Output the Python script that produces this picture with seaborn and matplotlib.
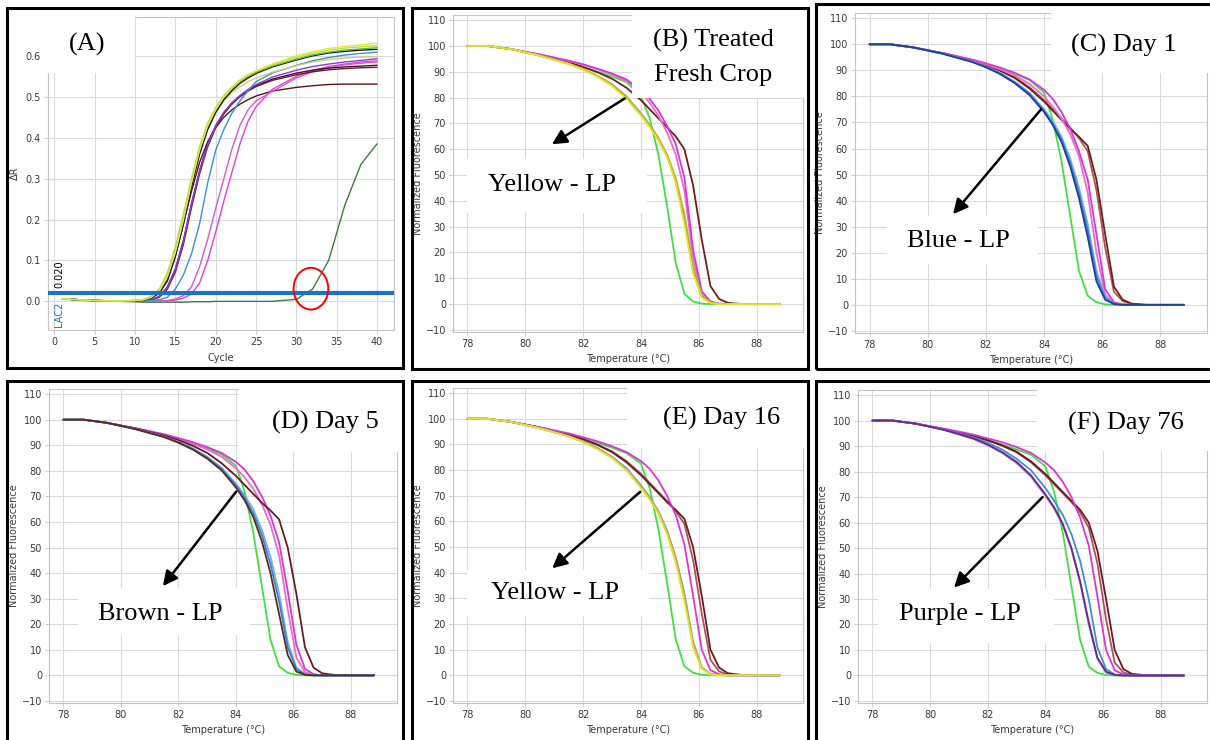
import matplotlib.pyplot as plt
import numpy as np
import pandas as pd
import seaborn as sns
from matplotlib.patches import Ellipse, Rectangle

W, H = 1210, 740

# ---- panel A: amplification curves ----
cycles = [1, 3, 5, 8, 10, 11, 12, 13, 14, 15, 16, 17, 18, 19, 20, 21, 22, 23, 24, 25, 27, 30, 32, 34, 36, 38, 40]
a_yellow = [0.006, 0.004, 0.002, 0.001, 0.002, 0.004, 0.010, 0.025, 0.060, 0.120, 0.200, 0.290, 0.370, 0.430, 0.470, 0.500, 0.522, 0.540, 0.553, 0.563, 0.580, 0.600, 0.610, 0.618, 0.623, 0.627, 0.631]
a_lime = [0.006, 0.004, 0.002, 0.001, 0.002, 0.004, 0.011, 0.028, 0.065, 0.128, 0.210, 0.300, 0.378, 0.436, 0.474, 0.503, 0.524, 0.541, 0.554, 0.563, 0.578, 0.596, 0.606, 0.614, 0.619, 0.622, 0.625]
a_green = [0.006, 0.004, 0.002, 0.001, 0.002, 0.004, 0.010, 0.026, 0.062, 0.125, 0.205, 0.295, 0.374, 0.432, 0.471, 0.500, 0.520, 0.537, 0.550, 0.560, 0.575, 0.592, 0.602, 0.609, 0.614, 0.617, 0.620]
a_black = [0.006, 0.004, 0.002, 0.001, 0.001, 0.003, 0.008, 0.020, 0.050, 0.110, 0.190, 0.280, 0.360, 0.420, 0.462, 0.493, 0.515, 0.533, 0.546, 0.557, 0.573, 0.590, 0.600, 0.607, 0.611, 0.614, 0.616]
a_olive = [0.006, 0.004, 0.002, 0.001, 0.002, 0.004, 0.012, 0.030, 0.070, 0.135, 0.215, 0.300, 0.372, 0.425, 0.462, 0.490, 0.510, 0.525, 0.537, 0.546, 0.560, 0.576, 0.585, 0.591, 0.595, 0.597, 0.598]
a_blue = [0.006, 0.004, 0.002, 0.001, 0.001, 0.001, 0.002, 0.004, 0.010, 0.030, 0.065, 0.117, 0.190, 0.290, 0.370, 0.420, 0.460, 0.490, 0.515, 0.537, 0.558, 0.577, 0.588, 0.596, 0.602, 0.606, 0.609]
a_maroon1 = [0.006, 0.004, 0.002, 0.001, 0.001, 0.002, 0.004, 0.012, 0.035, 0.080, 0.150, 0.240, 0.320, 0.385, 0.430, 0.462, 0.485, 0.502, 0.516, 0.527, 0.543, 0.558, 0.565, 0.570, 0.573, 0.575, 0.577]
a_maroon2 = [0.006, 0.004, 0.002, 0.001, 0.001, 0.002, 0.003, 0.010, 0.030, 0.072, 0.140, 0.230, 0.312, 0.378, 0.425, 0.458, 0.482, 0.500, 0.514, 0.525, 0.540, 0.554, 0.561, 0.566, 0.569, 0.571, 0.572]
a_purple = [0.006, 0.004, 0.002, 0.001, 0.001, 0.002, 0.004, 0.012, 0.033, 0.078, 0.148, 0.238, 0.318, 0.383, 0.428, 0.461, 0.485, 0.503, 0.518, 0.530, 0.548, 0.565, 0.574, 0.580, 0.585, 0.589, 0.593]
a_darkred = [0.006, 0.004, 0.002, 0.001, 0.002, 0.004, 0.009, 0.022, 0.052, 0.112, 0.190, 0.270, 0.340, 0.390, 0.425, 0.450, 0.468, 0.482, 0.493, 0.502, 0.514, 0.523, 0.527, 0.530, 0.531, 0.531, 0.531]
a_magenta1 = [0.006, 0.004, 0.002, 0.001, 0.000, 0.000, 0.000, 0.001, 0.001, 0.003, 0.008, 0.018, 0.045, 0.100, 0.170, 0.245, 0.315, 0.385, 0.440, 0.476, 0.518, 0.550, 0.564, 0.574, 0.580, 0.585, 0.588]
a_magenta2 = [0.006, 0.004, 0.002, 0.001, 0.000, 0.000, 0.000, 0.001, 0.002, 0.006, 0.014, 0.036, 0.085, 0.152, 0.228, 0.300, 0.372, 0.430, 0.468, 0.490, 0.513, 0.546, 0.561, 0.571, 0.578, 0.582, 0.585]
a_late = [0.006, 0.003, 0.001, 0.000, -0.001, -0.002, -0.002, -0.002, -0.002, -0.002, -0.002, -0.001, -0.001, -0.001, 0.000, 0.000, 0.000, 0.000, 0.000, 0.000, 0.000, 0.005, 0.030, 0.100, 0.235, 0.335, 0.385]
threshold = 0.020

# ---- panels B-F: melt curves ----
temps = [78.0, 78.7, 79.5, 80.5, 81.5, 82.0, 82.5, 83.0, 83.5, 84.0, 84.3, 84.6, 84.9, 85.2, 85.5, 85.8, 86.1, 86.4, 86.7, 87.0, 87.5, 88.0, 88.8]

b_green = [100, 100, 98.8, 96.4, 93.6, 91.8, 90.0, 88.2, 86.0, 80.5, 72, 58, 38, 16, 4, 1, 0.2, 0, 0, 0, 0, 0, 0]
b_yellow = [100, 100, 98.8, 96.2, 93.0, 90.8, 88.0, 84.5, 79.5, 73, 68.5, 63.5, 57, 47, 31, 12, 2.5, 0.4, 0, 0, 0, 0, 0]
b_olive = [100, 100, 98.8, 96.2, 93.1, 91.0, 88.3, 85.0, 80.0, 73.5, 69, 64, 57.5, 48, 33, 14, 3, 0.5, 0, 0, 0, 0, 0]
b_khaki = [100, 100, 98.8, 96.3, 93.2, 91.1, 88.4, 85.2, 80.5, 74, 69.5, 64.5, 58, 49, 35, 15, 3.5, 0.6, 0.1, 0, 0, 0, 0]
b_magenta = [100, 100, 98.8, 96.7, 94.3, 92.9, 91.2, 89.3, 87.0, 83, 79.5, 75, 69, 62, 49, 21, 5, 1, 0.2, 0, 0, 0, 0]
b_pink = [100, 100, 98.8, 96.7, 94.2, 92.7, 91.0, 89.0, 86.5, 82, 78, 73, 66.5, 58, 44, 18, 4, 0.8, 0.1, 0, 0, 0, 0]
b_brown = [100, 100, 98.8, 96.5, 93.7, 91.9, 89.8, 87.3, 83.8, 79, 75.5, 72, 68.5, 65, 60, 46, 25, 7, 2, 0.5, 0, 0, 0]

c_green = [100, 100, 98.8, 96.6, 94.0, 92.3, 90.5, 88.6, 86.3, 81.5, 71, 55, 34, 13, 3.5, 1, 0.2, 0, 0, 0, 0, 0, 0]
c_navy = [100, 100, 98.8, 96.4, 93.3, 91.2, 88.5, 85.0, 80.5, 74, 69, 62.5, 53, 41, 26, 9, 2, 0.3, 0, 0, 0, 0, 0]
c_blue = [100, 100, 98.8, 96.4, 93.4, 91.3, 88.7, 85.3, 81.0, 74.5, 69.5, 63.5, 54.5, 43, 28.5, 11, 2.5, 0.4, 0, 0, 0, 0, 0]
c_lightblue = [100, 100, 98.8, 96.5, 93.5, 91.4, 88.9, 85.6, 81.4, 75, 70.5, 64.5, 56, 45, 31, 13, 3, 0.5, 0.1, 0, 0, 0, 0]
c_magenta = [100, 100, 98.8, 96.7, 94.2, 92.7, 91.0, 89.0, 86.5, 82.5, 79, 74, 67.5, 59, 48, 27, 6, 1, 0.2, 0, 0, 0, 0]
c_pink = [100, 100, 98.8, 96.6, 94.0, 92.3, 90.3, 88.0, 84.8, 80, 76, 71.5, 65.5, 57, 43, 20, 4, 0.6, 0.1, 0, 0, 0, 0]
c_brown = [100, 100, 98.8, 96.6, 93.8, 92.0, 89.8, 87.0, 83.0, 78, 74.5, 71, 67.5, 64.5, 61, 48, 27, 7, 2, 0.5, 0, 0, 0]
c_rose = [100, 100, 98.8, 96.6, 93.8, 92.0, 89.9, 87.3, 83.5, 78.5, 75, 71.5, 68, 64, 59, 44, 22, 5, 1.5, 0.3, 0, 0, 0]

d_green = [100, 100, 98.8, 96.6, 94.0, 92.4, 90.6, 88.7, 86.5, 82, 72, 56, 35, 14, 3.5, 1, 0.2, 0, 0, 0, 0, 0, 0]
d_brown = [100, 100, 98.8, 96.3, 93.2, 91.0, 88.3, 84.8, 80.2, 73.5, 68.5, 62, 52.5, 40, 24, 8, 1.5, 0.2, 0, 0, 0, 0, 0]
d_blue = [100, 100, 98.8, 96.4, 93.3, 91.2, 88.6, 85.2, 80.8, 74.3, 69.5, 63.5, 55, 43.5, 29, 11, 2.5, 0.4, 0, 0, 0, 0, 0]
d_lightblue = [100, 100, 98.8, 96.4, 93.4, 91.3, 88.8, 85.5, 81.2, 75, 70.5, 65, 57, 46.5, 32, 13, 3, 0.5, 0.1, 0, 0, 0, 0]
d_magenta = [100, 100, 98.8, 96.7, 94.3, 92.8, 91.2, 89.3, 87.0, 83.5, 80.5, 76, 70, 62.5, 52, 33, 12, 2.5, 0.5, 0, 0, 0, 0]
d_pink = [100, 100, 98.8, 96.6, 94.1, 92.5, 90.6, 88.4, 85.5, 81, 77.5, 73, 67, 59, 47, 26, 7, 1.2, 0.2, 0, 0, 0, 0]
d_maroon = [100, 100, 98.8, 96.6, 93.8, 92.0, 89.8, 87.0, 83.0, 78, 74.5, 71, 67.5, 64.5, 61, 50, 32, 11, 3, 0.8, 0.1, 0, 0]

e_green = [100, 100, 98.8, 96.6, 94.0, 92.4, 90.6, 88.7, 86.6, 82.5, 73, 57, 36, 14, 3.5, 1, 0.2, 0, 0, 0, 0, 0, 0]
e_yellow = [100, 100, 98.8, 96.3, 93.1, 90.9, 88.1, 84.6, 79.8, 73, 68.5, 63, 55, 44, 29, 11, 2.5, 0.3, 0, 0, 0, 0, 0]
e_khaki = [100, 100, 98.8, 96.3, 93.2, 91.0, 88.3, 84.9, 80.2, 73.5, 69, 63.8, 56, 45.5, 31, 12.5, 3, 0.5, 0, 0, 0, 0, 0]
e_grayblue = [100, 100, 98.8, 96.4, 93.3, 91.2, 88.6, 85.2, 80.7, 74, 69.5, 64, 56.5, 46, 32, 13, 3, 0.5, 0.1, 0, 0, 0, 0]
e_magenta = [100, 100, 98.8, 96.7, 94.3, 92.8, 91.2, 89.3, 87.0, 83.5, 80.5, 76, 70, 62.5, 51, 31, 10, 2, 0.4, 0, 0, 0, 0]
e_rose = [100, 100, 98.8, 96.6, 93.8, 92.0, 89.9, 87.3, 83.5, 78.5, 75, 71.5, 68, 64, 59, 45, 24, 6, 1.5, 0.3, 0, 0, 0]
e_brown = [100, 100, 98.8, 96.6, 93.8, 92.0, 89.8, 87.0, 83.0, 78, 74.5, 71, 67.5, 64.5, 61, 50, 31, 10, 3, 0.8, 0.1, 0, 0]

f_green = [100, 100, 98.8, 96.6, 94.0, 92.4, 90.6, 88.7, 86.6, 82, 72, 56, 35, 14, 3.5, 1, 0.2, 0, 0, 0, 0, 0, 0]
f_purple = [100, 100, 98.8, 96.3, 93.0, 90.6, 87.6, 83.8, 78.5, 71, 66, 59.5, 50, 37, 21, 7, 1.5, 0.2, 0, 0, 0, 0, 0]
f_lavender = [100, 100, 98.8, 96.3, 92.8, 90.3, 87.3, 83.3, 78.0, 70.5, 65.5, 59, 49.5, 36.5, 20, 6.5, 1.2, 0.2, 0, 0, 0, 0, 0]
f_blue = [100, 100, 98.8, 96.4, 93.4, 91.3, 88.6, 85.0, 80.5, 73.5, 68.5, 63, 55.5, 45, 30, 11, 2.5, 0.4, 0, 0, 0, 0, 0]
f_magenta = [100, 100, 98.8, 96.8, 94.5, 93.0, 91.5, 89.6, 87.3, 83.5, 80.5, 76, 70, 62, 51, 31, 10, 2, 0.4, 0, 0, 0, 0]
f_rose = [100, 100, 98.8, 96.6, 94.0, 92.2, 90.1, 87.5, 83.6, 78.5, 75, 71.5, 68, 64, 58, 44, 22, 5, 1.2, 0.2, 0, 0, 0]
f_maroon = [100, 100, 98.8, 96.6, 94.0, 92.3, 90.3, 87.8, 84.0, 79, 75.5, 72, 68.5, 65, 60, 49, 30, 10, 2.5, 0.6, 0.1, 0, 0]

sns.set_theme(style="whitegrid")
plt.rcParams["font.family"] = ["DejaVu Sans"]

fig = plt.figure(figsize=(W / 100, H / 100), dpi=100)
fig.patch.set_facecolor("white")


def px_axes(left, top, right, bottom):
    return fig.add_axes([left / W, 1 - bottom / H, (right - left) / W, (bottom - top) / H])


def style_axes(ax):
    ax.set_facecolor("white")
    ax.grid(True, color="#dadada", lw=0.8)
    for s in ax.spines.values():
        s.set_visible(True)
        s.set_color("#c4c4c4")
        s.set_linewidth(0.8)
    ax.tick_params(left=True, bottom=True, labelsize=7, labelcolor="#3a3a3a",
                   length=3, color="#cfcfcf", width=0.8, pad=2)


def draw_curves(ax, x_name, xs, curves, lw):
    frames = [pd.DataFrame({x_name: xs, "y": vals, "curve": name}) for name, vals, _ in curves]
    df = pd.concat(frames, ignore_index=True)
    palette = {name: color for name, _, color in curves}
    sns.lineplot(data=df, x=x_name, y="y", hue="curve", hue_order=[c[0] for c in curves],
                 palette=palette, estimator=None, sort=False, lw=lw, legend=False, ax=ax)


def white_box(ax, x0, x1, y0, y1):
    ax.add_patch(Rectangle((x0, y0), x1 - x0, y1 - y0, facecolor="white", edgecolor="none",
                           zorder=4, clip_on=False))


def big_text(ax, x, y, s):
    ax.text(x, y, s, ha="center", va="center", fontsize=19, family="Liberation Serif",
            color="black", zorder=5)


def panel_frame(left, top, right, bottom):
    fig.add_artist(Rectangle((left / W, 1 - bottom / H), (right - left) / W, (bottom - top) / H,
                             transform=fig.transFigure, fill=False, lw=2.2, ec="black", zorder=10))


# ---- panel A ----
axA = px_axes(48, 17, 394, 330)
style_axes(axA)
a_curves = [
    ("late", a_late, "#3d7d3d"),
    ("darkred", a_darkred, "#5a1418"),
    ("magenta1", a_magenta1, "#e040d8"),
    ("magenta2", a_magenta2, "#d45ccc"),
    ("maroon1", a_maroon1, "#4a0f22"),
    ("maroon2", a_maroon2, "#6a1a30"),
    ("purple", a_purple, "#8a3ae0"),
    ("blue", a_blue, "#3d8fd8"),
    ("olive", a_olive, "#d2d070"),
    ("black", a_black, "#111111"),
    ("green", a_green, "#55bb3a"),
    ("lime", a_lime, "#b8e03a"),
    ("yellow", a_yellow, "#e8e830"),
]
draw_curves(axA, "cycle", cycles, a_curves, lw=1.0)
axA.axhline(threshold, color="#1a73c6", lw=3, zorder=3)
axA.set_xlim(-0.8, 42.1)
axA.set_ylim(-0.07, 0.695)
axA.set_xticks(np.arange(0, 41, 5))
axA.set_yticks(np.arange(0, 0.61, 0.1))
axA.set_yticklabels([f"{v:.1f}" for v in np.arange(0, 0.61, 0.1)])
axA.set_xlabel("Cycle", fontsize=7, color="#3a3a3a")
axA.set_ylabel("ΔR", fontsize=7, color="#3a3a3a")
axA.xaxis.set_label_coords(0.5, -0.075)
axA.yaxis.set_label_coords(-0.08, 0.5)
axA.text(0.6, 0.066, "0.020", rotation=90, ha="center", va="center", fontsize=7, color="black")
axA.text(0.6, -0.032, "LAC2", rotation=90, ha="center", va="center", fontsize=7, color="#1a73c6")
axA.add_patch(Ellipse((31.8, 0.031), 4.3, 0.102, fill=False, ec="red", lw=1.4, zorder=6))
white_box(axA, -1.3, 10.0, 0.558, 0.72)
big_text(axA, 4.0, 0.627, "(A)")

# ---- panels B-F ----
melt_panels = [
    dict(box=(453, 15, 803, 332),
         curves=[("green", b_green, "#44dd44"), ("brown", b_brown, "#6e2018"),
                 ("pink", b_pink, "#e56fc9"), ("magenta", b_magenta, "#d836d8"),
                 ("khaki", b_khaki, "#c8b85a"), ("olive", b_olive, "#a6a642"),
                 ("yellow", b_yellow, "#e3e32a")],
         title=[(86.5, 102.3, "(B) Treated"), (86.5, 88.9, "Fresh Crop")],
         title_box=(83.7, 90.0, 79.7, 116),
         label=(80.92, 46.2, "Yellow - LP"), label_box=(77.99, 84.2, 35.3, 56.3),
         arrow=((83.44, 79.7), (80.92, 61.9))),
    dict(box=(855, 13, 1207, 333),
         curves=[("green", c_green, "#44dd44"), ("rose", c_rose, "#b0505a"),
                 ("brown", c_brown, "#6e2018"), ("pink", c_pink, "#e56fc9"),
                 ("magenta", c_magenta, "#d836d8"), ("lightblue", c_lightblue, "#6fb2e6"),
                 ("blue", c_blue, "#3f7fd0"), ("navy", c_navy, "#1f3f9a")],
         title=[(86.75, 99.7, "(C) Day 1")],
         title_box=(84.24, 90.0, 88.8, 116),
         label=(81.06, 24.6, "Blue - LP"), label_box=(78.6, 83.8, 15.5, 34.2),
         arrow=((83.9, 75.1), (80.87, 34.8))),
    dict(box=(49, 389, 397, 703),
         curves=[("green", d_green, "#44dd44"), ("pink", d_pink, "#e56fc9"),
                 ("magenta", d_magenta, "#d836d8"), ("maroon", d_maroon, "#6a1a22"),
                 ("lightblue", d_lightblue, "#6fb2e6"), ("blue", d_blue, "#3f7fd0"),
                 ("brown", d_brown, "#5a2a1a")],
         title=[(87.1, 99.1, "(D) Day 5")],
         title_box=(84.1, 90.0, 87.5, 116),
         label=(81.36, 23.9, "Brown - LP"), label_box=(78.5, 84.5, 15.6, 34.2),
         arrow=((84.01, 71.9), (81.46, 34.9))),
    dict(box=(453, 388, 803, 703),
         curves=[("green", e_green, "#44dd44"), ("rose", e_rose, "#b0505a"),
                 ("brown", e_brown, "#6a1a22"), ("magenta", e_magenta, "#d836d8"),
                 ("grayblue", e_grayblue, "#7a98a8"), ("khaki", e_khaki, "#b8aa60"),
                 ("yellow", e_yellow, "#e3e32a")],
         title=[(86.8, 100.0, "(E) Day 16")],
         title_box=(83.5, 90.0, 88.5, 116),
         label=(81.01, 32.1, "Yellow - LP"), label_box=(77.98, 84.28, 23.0, 41.0),
         arrow=((83.97, 71.5), (80.93, 41.7))),
    dict(box=(858, 390, 1207, 703),
         curves=[("green", f_green, "#44dd44"), ("rose", f_rose, "#b0505a"),
                 ("maroon", f_maroon, "#6a1a22"), ("magenta", f_magenta, "#d836d8"),
                 ("blue", f_blue, "#3f8fd6"), ("lavender", f_lavender, "#9b7bc0"),
                 ("purple", f_purple, "#6a2b8a")],
         title=[(86.78, 99.0, "(F) Day 76")],
         title_box=(83.7, 90.0, 88.0, 116),
         label=(81.04, 24.2, "Purple - LP"), label_box=(78.2, 84.3, 12.6, 33.9),
         arrow=((83.9, 70.0), (80.83, 34.5))),
]

for p in melt_panels:
    ax = px_axes(*p["box"])
    style_axes(ax)
    draw_curves(ax, "temp", temps, p["curves"], lw=1.3)
    ax.set_xlim(77.5, 89.6)
    ax.set_ylim(-10.8, 112)
    ax.set_xticks(np.arange(78, 89, 2))
    ax.set_yticks(np.arange(-10, 111, 10))
    ax.set_xlabel("Temperature (°C)", fontsize=7, color="#3a3a3a")
    ax.set_ylabel("Normalized Fluorescence", fontsize=7, color="#3a3a3a")
    ax.xaxis.set_label_coords(0.5, -0.07)
    ax.yaxis.set_label_coords(-0.085, 0.5)
    white_box(ax, *p["title_box"])
    for x, y, s in p["title"]:
        big_text(ax, x, y, s)
    white_box(ax, *p["label_box"])
    big_text(ax, *p["label"])
    ax.annotate("", xy=p["arrow"][1], xytext=p["arrow"][0],
                arrowprops=dict(arrowstyle="-|>", color="black", lw=1.8, mutation_scale=22,
                                shrinkA=0, shrinkB=0), zorder=6)

# panel frames
panel_frame(7, 8, 403, 368)
panel_frame(412, 8, 808, 369)
panel_frame(816, 4, 1214, 369)
panel_frame(7, 381, 403, 746)
panel_frame(412, 381, 808, 746)
panel_frame(816, 381, 1214, 746)

fig.savefig("out.png", dpi=100, facecolor="white")
